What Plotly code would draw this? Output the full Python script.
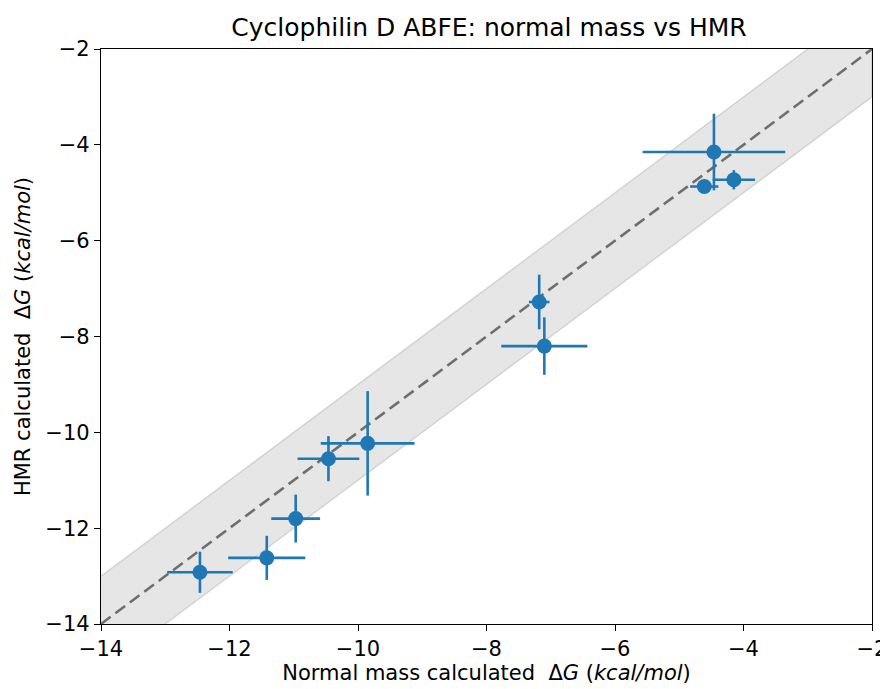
import plotly.graph_objects as go

normal_dG = [-4.46, -4.61, -4.15, -7.18, -7.10, -9.85, -10.46, -10.97, -11.42, -12.46]
normal_err = [1.11, 0.22, 0.33, 0.16, 0.67, 0.73, 0.48, 0.38, 0.60, 0.51]
hmr_dG = [-4.15, -4.87, -4.73, -7.28, -8.20, -10.23, -10.55, -11.80, -12.62, -12.92]
hmr_err = [0.80, 0.10, 0.20, 0.57, 0.60, 1.09, 0.47, 0.50, 0.46, 0.43]

line_range = [-14, -2]
band_width = 1.0

FONT = "DejaVu Sans"
fig = go.Figure()

# shaded band y = x +/- 1
bx = line_range + line_range[::-1]
by = [line_range[0] + band_width, line_range[1] + band_width,
      line_range[1] - band_width, line_range[0] - band_width]
fig.add_trace(go.Scatter(x=bx, y=by, fill="toself", fillcolor="rgba(128,128,128,0.2)",
                         line=dict(color="rgba(128,128,128,0.25)", width=1.5),
                         mode="lines", hoverinfo="skip", showlegend=False))
# identity line
fig.add_trace(go.Scatter(x=line_range, y=line_range, mode="lines",
                         line=dict(color="rgba(80,80,80,0.8)", width=2.6, dash="12px,6px"),
                         showlegend=False))
# data
fig.add_trace(go.Scatter(x=normal_dG, y=hmr_dG, mode="markers",
                         marker=dict(color="#1f77b4", size=15),
                         error_x=dict(type="data", array=normal_err, color="#1f77b4", thickness=2.6, width=0),
                         error_y=dict(type="data", array=hmr_err, color="#1f77b4", thickness=2.6, width=0),
                         showlegend=False))

axis_common = dict(range=line_range, dtick=2, tick0=-14, showgrid=False, zeroline=False,
                   showline=True, linecolor="black", linewidth=1.3, mirror=True,
                   ticks="outside", ticklen=6, tickwidth=1.3, tickcolor="black",
                   automargin=False, ticklabeloverflow="allow",
                   tickfont=dict(family=FONT, size=21, color="black"))
fig.update_layout(
    width=880, height=681,
    margin=dict(l=93, r=16, t=41, b=65, autoexpand=False),
    plot_bgcolor="white", paper_bgcolor="white",
    font=dict(family=FONT, color="black"),
    title=dict(text="Cyclophilin D ABFE: normal mass vs HMR", x=0.5466, xanchor="center",
               y=0.971, yanchor="middle", font=dict(family=FONT, size=25, color="black")),
    xaxis=dict(**axis_common, title=dict(text="Normal mass calculated  Δ<i>G</i> (<i>kcal/mol</i>)",
                                         font=dict(family=FONT, size=21), standoff=4)),
    yaxis=dict(**axis_common, title=dict(text="HMR calculated  Δ<i>G</i> (<i>kcal/mol</i>)",
                                         font=dict(family=FONT, size=21), standoff=8)),
)
fig.write_html("out.html")
